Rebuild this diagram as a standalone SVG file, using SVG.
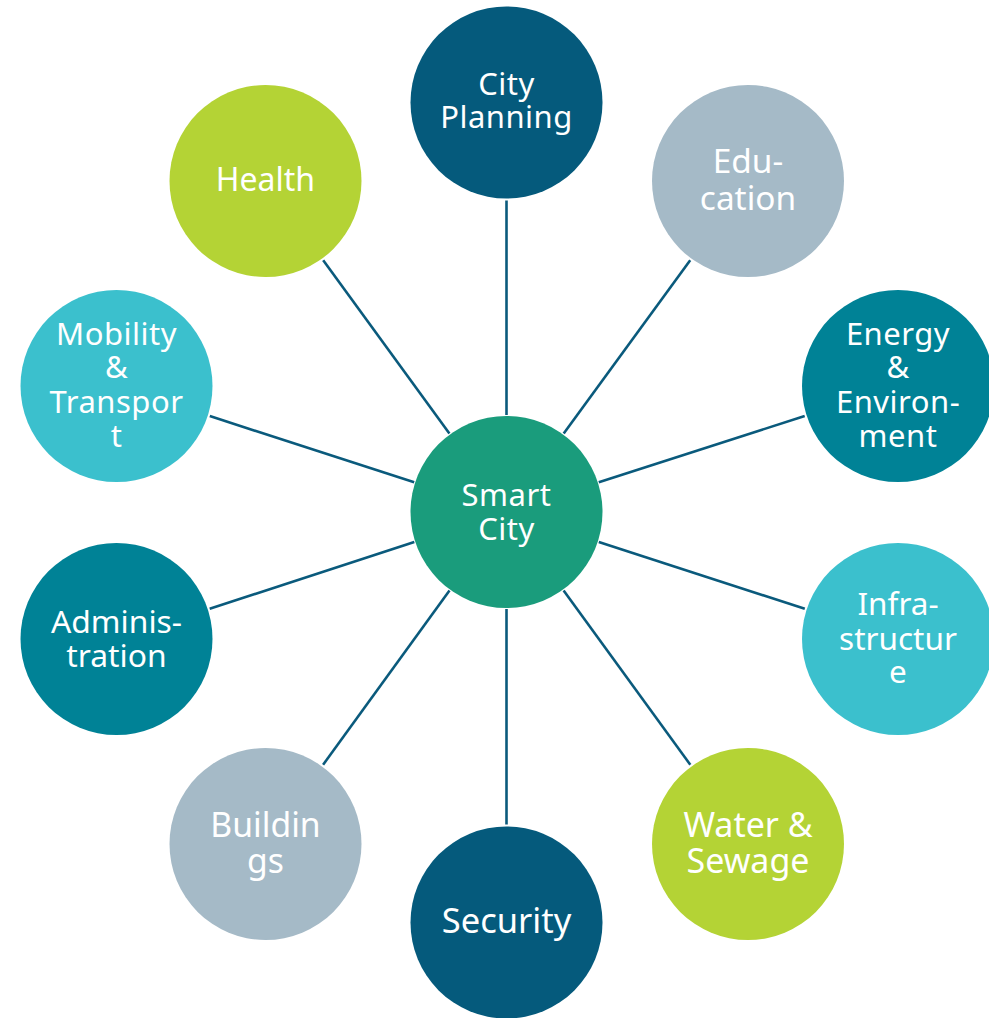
<svg xmlns="http://www.w3.org/2000/svg" width="989" height="1018" viewBox="0 0 989 1018">
<style>
.n circle{stroke:none}
.t{font-family:"Noto Sans","Open Sans","DejaVu Sans",sans-serif;fill:#ffffff;text-anchor:middle}
.s{letter-spacing:0.5px}
.c{stroke:#0A5A7C;stroke-width:2.6;fill:none}
.db{fill:#055A7C}.gr{fill:#1A9C7C}.gy{fill:#A5BAC7}.tl{fill:#008296}.cy{fill:#3BC0CD}.lm{fill:#B4D335}
</style>
<rect width="989" height="1018" fill="#ffffff"/>
<g id="connectors">
<line class="c" x1="506.5" y1="200.5" x2="506.5" y2="415"/>
<line class="c" x1="690.2" y1="260.2" x2="563.7" y2="433.6"/>
<line class="c" x1="804.7" y1="416" x2="598.8" y2="482.3"/>
<line class="c" x1="804.8" y1="608.8" x2="598.8" y2="542"/>
<line class="c" x1="690.3" y1="764.7" x2="563.6" y2="590.5"/>
<line class="c" x1="506.5" y1="824.5" x2="506.5" y2="609"/>
<line class="c" x1="323.1" y1="764.7" x2="449.5" y2="590.5"/>
<line class="c" x1="209.7" y1="608.7" x2="414.3" y2="542"/>
<line class="c" x1="209.8" y1="416.1" x2="414.2" y2="482.2"/>
<line class="c" x1="323.2" y1="260.2" x2="449.4" y2="433.6"/>
</g>
<g id="smart-city" class="n"><circle class="gr" cx="506.5" cy="512" r="96"/>
<text class="t s" font-size="31"><tspan x="506.5" y="505.7">Smart</tspan><tspan x="506.5" y="540">City</tspan></text></g>
<g id="city-planning" class="n"><circle class="db" cx="506.5" cy="102.5" r="96"/>
<text class="t s" font-size="31"><tspan x="506.5" y="95">City</tspan><tspan x="506.5" y="128">Planning</tspan></text></g>
<g id="education" class="n"><circle class="gy" cx="748" cy="181" r="96"/>
<text class="t" font-size="33.4"><tspan x="748" y="173">Edu-</tspan><tspan x="748" y="210">cation</tspan></text></g>
<g id="energy" class="n"><circle class="tl" cx="898" cy="386" r="96"/>
<text class="t s" font-size="31"><tspan x="898" y="345">Energy</tspan><tspan x="898" y="378.3">&amp;</tspan><tspan x="898" y="412.7">Environ-</tspan><tspan x="898" y="446.7">ment</tspan></text></g>
<g id="infrastructure" class="n"><circle class="cy" cx="898" cy="639" r="96"/>
<text class="t" font-size="31.5"><tspan x="898" y="615">Infra-</tspan><tspan x="898" y="650">structur</tspan><tspan x="898" y="683.3">e</tspan></text></g>
<g id="water" class="n"><circle class="lm" cx="748" cy="844" r="96"/>
<text class="t" font-size="34"><tspan x="748" y="837.3">Water &amp;</tspan><tspan x="748" y="873.3">Sewage</tspan></text></g>
<g id="security" class="n"><circle class="db" cx="506.5" cy="922.5" r="96"/>
<text class="t" font-size="34.5" x="506.5" y="933.3">Security</text></g>
<g id="buildings" class="n"><circle class="gy" cx="265.5" cy="844" r="96"/>
<text class="t" font-size="33.7"><tspan x="265.5" y="836.7">Buildin</tspan><tspan x="265.5" y="873.3">gs</tspan></text></g>
<g id="administration" class="n"><circle class="tl" cx="116.5" cy="639" r="96"/>
<text class="t" font-size="31.8"><tspan x="116.5" y="632.7">Adminis-</tspan><tspan x="116.5" y="666.7">tration</tspan></text></g>
<g id="mobility" class="n"><circle class="cy" cx="116.5" cy="386" r="96"/>
<text class="t s" font-size="31"><tspan x="116.5" y="345">Mobility</tspan><tspan x="116.5" y="378.3">&amp;</tspan><tspan x="116.5" y="412.7">Transpor</tspan><tspan x="116.5" y="446.7">t</tspan></text></g>
<g id="health" class="n"><circle class="lm" cx="265.5" cy="181" r="96"/>
<text class="t" font-size="32" x="265.5" y="191">Health</text></g>
</svg>
